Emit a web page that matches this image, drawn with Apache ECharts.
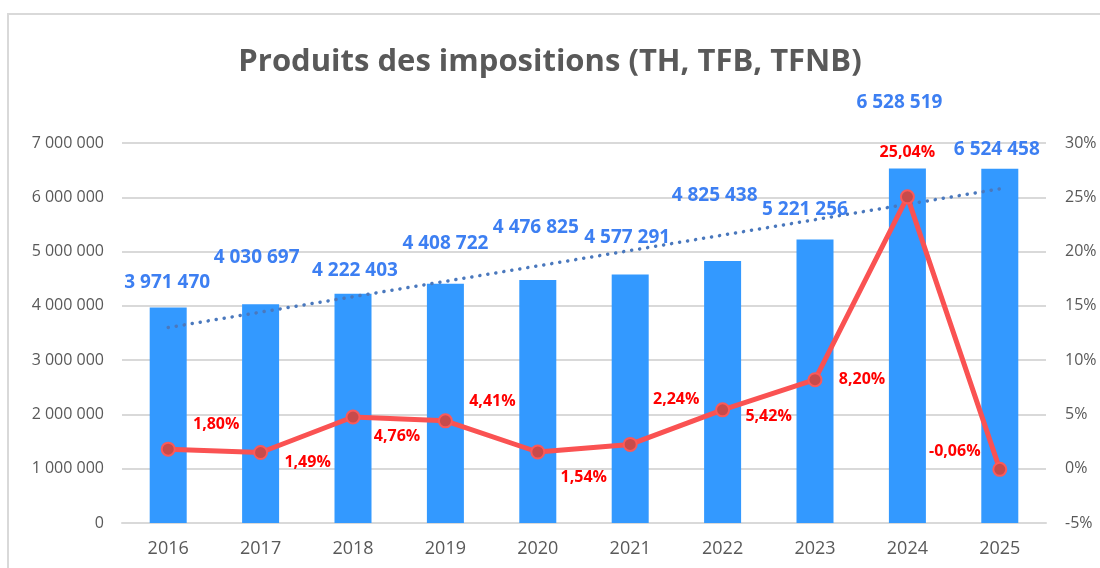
<!DOCTYPE html>
<html>
<head>
<meta charset="utf-8">
<script src="https://cdn.jsdelivr.net/npm/echarts@6/dist/echarts.min.js"></script>
<style>
  html, body { margin: 0; padding: 0; background: #fff; }
  #chart { width: 1100px; height: 568px; }
</style>
</head>
<body>
<div id="chart"></div>
<script>
// data
const years = ['2016', '2017', '2018', '2019', '2020', '2021', '2022', '2023', '2024', '2025'];
const produits = [3971470, 4030697, 4222403, 4408722, 4476825, 4577291, 4825438, 5221256, 6528519, 6524458];
const evolution = [1.80, 1.49, 4.76, 4.41, 1.54, 2.24, 5.42, 8.20, 25.04, -0.06];
// dotted trend line, ends (2016 and 2025)
const tendance = [3600000, null, null, null, null, null, null, null, null, 6155000];
const leftTicks = [0, 7000000, 1000000];
const rightTicks = [-5, 30, 5];

// label nudges, same as the hand-placed labels of the original
const barLabelShift = [[-1, -15], [-4, -37], [2, -14], [0, -31], [-2, -43], [-3, -27], [-8, -56], [-10, -20], [-8, -57], [-3, -10]];
const lineLabelShift = [[48, -25], [47, 10], [44, 19], [47, -19], [46, 25], [46, -45], [46, 7], [47, 0], [0, -44], [-45, -18]];

const font = '"Open Sans", "Noto Sans", sans-serif';
const grey = '#595959';

const fmtNum = v => String(Math.round(v)).replace(/\B(?=(\d{3})+(?!\d))/g, ' ');
const fmtPct = v => v.toFixed(2).replace('.', ',') + '%';

const chart = echarts.init(document.getElementById('chart'));
chart.setOption({
  animation: false,
  backgroundColor: '#fff',
  textStyle: { fontFamily: font },
  graphic: [{
    type: 'rect',
    shape: { x: 8, y: 14, width: 1200, height: 700 },
    style: { fill: 'none', stroke: '#d9d9d9', lineWidth: 2 },
    silent: true,
    z: -10
  }],
  title: {
    text: 'Produits des impositions (TH, TFB, TFNB)',
    left: 'center',
    top: 42,
    textStyle: { color: grey, fontSize: 31, fontWeight: 'bold', fontFamily: font }
  },
  grid: { left: 122, right: 54, top: 143, bottom: 45 },
  xAxis: {
    type: 'category',
    data: years,
    axisLine: { show: true, lineStyle: { color: '#d9d9d9', width: 2 } },
    axisTick: { show: false },
    axisLabel: { color: grey, fontSize: 18, margin: 17 }
  },
  yAxis: [{
    type: 'value',
    min: leftTicks[0],
    max: leftTicks[1],
    interval: leftTicks[2],
    axisLine: { show: false },
    axisTick: { show: false },
    axisLabel: { color: grey, fontSize: 16, margin: 18, formatter: fmtNum },
    splitLine: { lineStyle: { color: '#d9d9d9', width: 2 } }
  }, {
    type: 'value',
    min: rightTicks[0],
    max: rightTicks[1],
    interval: rightTicks[2],
    axisLine: { show: false },
    axisTick: { show: false },
    axisLabel: { color: grey, fontSize: 16, margin: 19, formatter: '{value}%' },
    splitLine: { show: false }
  }],
  series: [{
    name: 'Produits',
    type: 'bar',
    data: produits.map((v, i) => ({
      value: v,
      label: { offset: barLabelShift[i] }
    })),
    barWidth: 37,
    itemStyle: { color: '#3399ff' },
    label: {
      show: true,
      position: 'top',
      distance: 0,
      color: '#3d7ff2',
      fontSize: 19,
      fontWeight: 'bold',
      formatter: p => fmtNum(p.value)
    },
    z: 2
  }, {
    name: 'Tendance',
    type: 'line',
    data: tendance,
    connectNulls: true,
    symbol: 'none',
    lineStyle: { color: '#4a78bd', width: 3.5, type: [0.1, 8], cap: 'round' },
    z: 3
  }, {
    name: 'Evolution',
    type: 'line',
    yAxisIndex: 1,
    data: evolution.map((v, i) => ({
      value: v,
      label: { offset: lineLabelShift[i] }
    })),
    symbol: 'circle',
    symbolSize: 13,
    lineStyle: { color: '#fa5252', width: 5 },
    itemStyle: { color: '#c84b4b', borderColor: '#fa5a5a', borderWidth: 2 },
    label: {
      show: true,
      position: 'inside',
      color: '#ff0000',
      fontSize: 16,
      fontWeight: 'bold',
      formatter: p => fmtPct(p.value)
    },
    z: 4
  }]
});
</script>
</body>
</html>
